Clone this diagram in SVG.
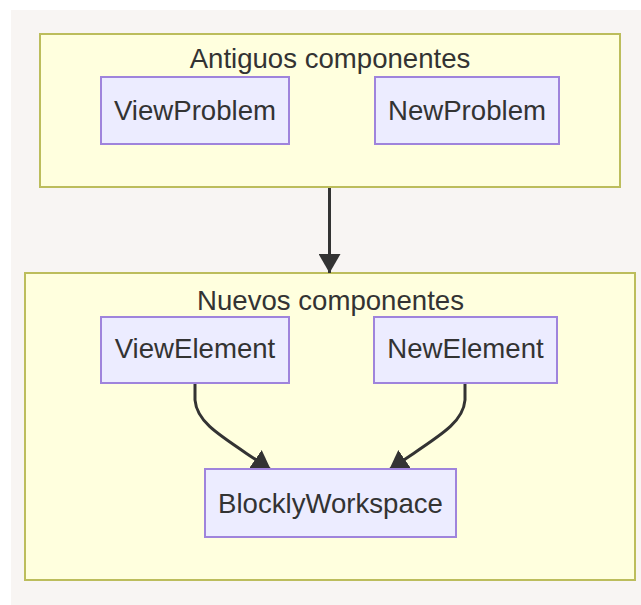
<svg xmlns="http://www.w3.org/2000/svg" width="641" height="605" viewBox="0 0 641 605">
  <defs>
    <style>
      .cluster { fill: #ffffde; stroke: #bcbd5c; stroke-width: 2; }
      .node rect { fill: #ececff; stroke: #9f84dc; stroke-width: 2; }
      text { font-family: "Liberation Sans", Arial, sans-serif; font-size: 27.6px; fill: #333333; text-anchor: middle; }
      .edge { fill: none; stroke: #333333; stroke-width: 3; }
    </style>
    <marker id="arrow" viewBox="0 0 10 10" refX="10" refY="5" markerUnits="userSpaceOnUse" markerWidth="19" markerHeight="22" orient="auto" preserveAspectRatio="none">
      <path d="M0,0 L10,5 L0,10 z" fill="#333333"/>
    </marker>
  </defs>

  <!-- canvas -->
  <rect x="11" y="10" width="630" height="595" fill="#f8f5f3"/>

  <!-- subgraphs -->
  <g id="antiguos">
    <rect class="cluster" x="40" y="34" width="580" height="153"/>
    <text x="330" y="68">Antiguos componentes</text>
  </g>
  <g id="nuevos">
    <rect class="cluster" x="25" y="273" width="610" height="307"/>
    <text x="330.5" y="310">Nuevos componentes</text>
  </g>

  <!-- connectors -->
  <g id="edges">
    <path class="edge" d="M329.5,188 L329.5,273" marker-end="url(#arrow)"/>
    <path class="edge" d="M195,384 L195,400 C197,425 225,438 271,470" marker-end="url(#arrow)"/>
    <path class="edge" d="M465,384 L465,400 C463,425 435,438 389,470" marker-end="url(#arrow)"/>
  </g>

  <!-- nodes -->
  <g id="ViewProblem" class="node">
    <rect x="101" y="77" width="188" height="67"/>
    <text x="195" y="120">ViewProblem</text>
  </g>
  <g id="NewProblem" class="node">
    <rect x="375" y="77" width="184" height="67"/>
    <text x="467" y="120">NewProblem</text>
  </g>
  <g id="ViewElement" class="node">
    <rect x="101" y="317" width="188" height="66"/>
    <text x="195" y="358">ViewElement</text>
  </g>
  <g id="NewElement" class="node">
    <rect x="374" y="317" width="183" height="66"/>
    <text x="465.5" y="358">NewElement</text>
  </g>
  <g id="BlocklyWorkspace" class="node">
    <rect x="205" y="469" width="251" height="68"/>
    <text x="330.5" y="513">BlocklyWorkspace</text>
  </g>
</svg>
